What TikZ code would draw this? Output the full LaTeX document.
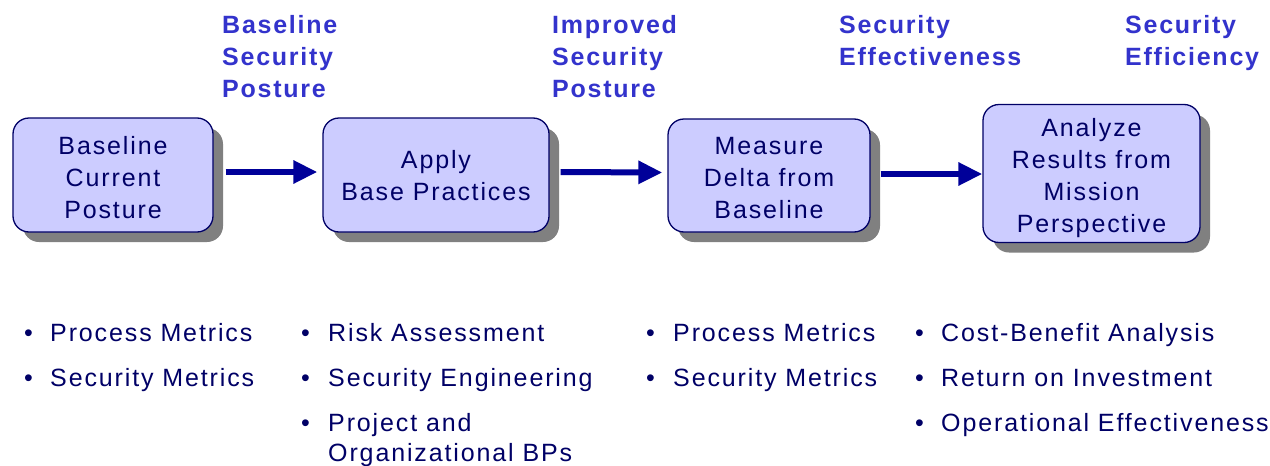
\documentclass[tikz,border=0pt]{standalone}
\usepackage{fontspec}
\setmainfont{Liberation Sans}
\newfontfamily\bodyfont[LetterSpace=7.5]{Liberation Sans}
\newfontfamily\headfont[LetterSpace=7]{Liberation Sans}
\usetikzlibrary{arrows.meta,shadows}
\definecolor{boxfill}{HTML}{CCCCFF}
\definecolor{navy}{HTML}{000066}
\definecolor{arrowblue}{HTML}{000099}
\definecolor{headblue}{HTML}{3333CC}
\definecolor{shadowgray}{HTML}{808080}
\tikzset{
  stepbox/.style={draw=navy, line width=1.3pt, fill=boxfill, rounded corners=16pt,
    inner sep=0pt,
    drop shadow={shadow xshift=10pt, shadow yshift=-10pt, fill=shadowgray, opacity=1}},
  boxtext/.style={inner sep=0pt, align=center, text=navy,
    font=\bodyfont\fontsize{25}{32}\selectfont},
  flow/.style={draw=arrowblue, line width=6pt, -{Triangle[length=24pt,width=22pt]}},
  head/.style={anchor=base west, inner sep=0pt, text=headblue,
    font=\headfont\bfseries\fontsize{25}{32}\selectfont},
  item/.style={anchor=base west, inner sep=0pt, text=navy,
    font=\bodyfont\fontsize{25}{30}\selectfont},
  dot/.style={anchor=base west, inner sep=0pt, text=navy,
    font=\bodyfont\fontsize{25}{30}\selectfont}
}
\begin{document}
\begin{tikzpicture}[x=1pt,y=-1pt]
\useasboundingbox (0,0) rectangle (1270,466);
% boxes
\node[stepbox, minimum width=200pt, minimum height=114pt] (b1) at (113,175) {};
\node[stepbox, minimum width=226pt, minimum height=114pt] (b2) at (436,175) {};
\node[stepbox, minimum width=202pt, minimum height=113pt] (b3) at (769,175.5) {};
\node[stepbox, minimum width=217pt, minimum height=138pt] (b4) at (1091.5,173.5) {};
\node[boxtext] (t1) at ([yshift=-3pt]b1.center) {Baseline\\Current\\Posture};
\node[boxtext] (t2) at ([yshift=-1pt]b2.center) {Apply\\Base Practices};
\node[boxtext] (t3) at ([yshift=-2.5pt]b3.center) {Measure\\Delta from\\Baseline};
\node[boxtext] (t4) at ([yshift=-4.5pt]b4.center) {Analyze\\Results from\\Mission\\Perspective};
% arrows
\draw[flow] ([xshift=12pt,yshift=3pt]b1.east) -- ([xshift=-5pt,yshift=3pt]b2.west);
\draw[flow] ([xshift=11pt,yshift=3pt]b2.east) -- ([xshift=-5pt,yshift=3pt]b3.west);
\draw[flow] ([xshift=10pt,yshift=1.5pt]b3.east) -- ([yshift=-0.5pt]b4.west);
% headers
\node[head] (h1a) at (222,33) {Baseline};
\node[head] (h1b) at (222,65) {Security};
\node[head] (h1c) at (222,97) {Posture};
\node[head] (h2a) at (552,33) {Improved};
\node[head] (h2b) at (552,65) {Security};
\node[head] (h2c) at (552,97) {Posture};
\node[head] (h3a) at (839,33) {Security};
\node[head] (h3b) at (839,65) {Effectiveness};
\node[head] (h4a) at (1125,33) {Security};
\node[head] (h4b) at (1125,65) {Efficiency};
% bullets column 1
\node[dot] (d11) at (24,341) {\textbullet};
\node[item] (t11) at (50,341) {Process Metrics};
\node[dot] (d12) at (24,386) {\textbullet};
\node[item] (t12) at (50,386) {Security Metrics};
% column 2
\node[dot] (d21) at (301,341) {\textbullet};
\node[item] (t21) at (328,341) {Risk Assessment};
\node[dot] (d22) at (301,386) {\textbullet};
\node[item] (t22) at (328,386) {Security Engineering};
\node[dot] (d23) at (301,431) {\textbullet};
\node[item] (t23) at (328,431) {Project and};
\node[item] (t24) at (328,461) {Organizational BPs};
% column 3
\node[dot] (d31) at (646,341) {\textbullet};
\node[item] (t31) at (673,341) {Process Metrics};
\node[dot] (d32) at (646,386) {\textbullet};
\node[item] (t32) at (673,386) {Security Metrics};
% column 4
\node[dot] (d41) at (915,341) {\textbullet};
\node[item] (t41) at (941,341) {Cost-Benefit Analysis};
\node[dot] (d42) at (915,386) {\textbullet};
\node[item] (t42) at (941,386) {Return on Investment};
\node[dot] (d43) at (915,431) {\textbullet};
\node[item] (t43) at (941,431) {Operational Effectiveness};
\end{tikzpicture}
\end{document}
